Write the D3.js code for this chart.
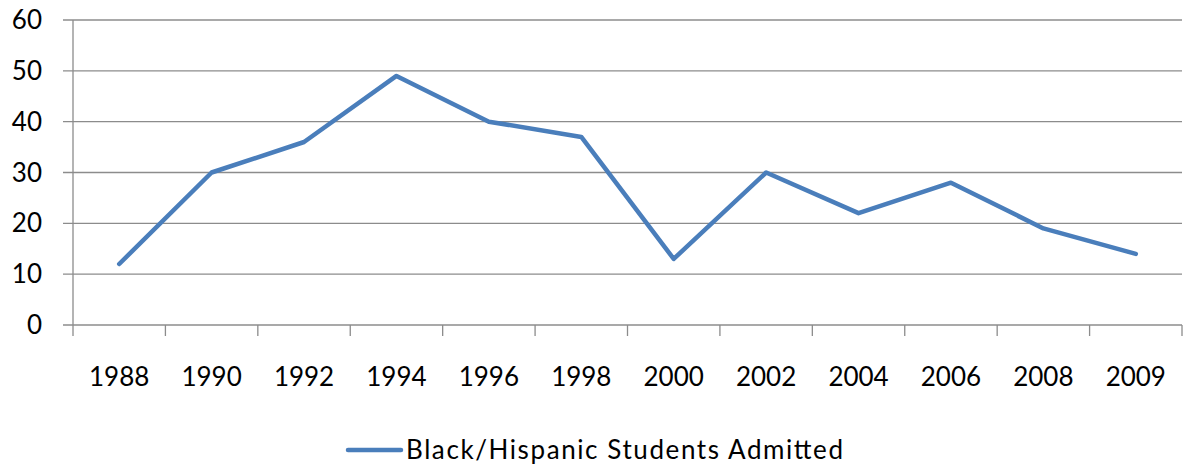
<!DOCTYPE html>
<html>
<head>
<meta charset="utf-8">
<script src="https://cdn.jsdelivr.net/npm/d3@7"></script>
<style>
  body { margin: 0; background: #fff; }
  text { font-family: Lato, "Open Sans", sans-serif; fill: #000; }
</style>
</head>
<body>
<script>
// dati
var years = ["1988", "1990", "1992", "1994", "1996", "1998", "2000", "2002", "2004", "2006", "2008", "2009"];
var admitted = [12, 30, 36, 49, 40, 37, 13, 30, 22, 28, 19, 14];
var yTicks = [0, 10, 20, 30, 40, 50, 60];
var seriesName = "Black/Hispanic Students Admitted";

var width = 1189, height = 473;
var plotLeft = 73, plotRight = 1182, plotTop = 20, plotBottom = 325;
var blue = "#4a7ebb", grid = "#8c8c8c";

var svg = d3.select("body").append("svg")
    .attr("width", width)
    .attr("height", height);

// scale
var x = d3.scaleBand().domain(years).range([plotLeft, plotRight]);
var y = d3.scaleLinear().domain([0, 60]).range([plotBottom, plotTop]);

// griglia orizzontale
svg.append("g").selectAll("line")
    .data(yTicks)
    .enter().append("line")
    .attr("x1", plotLeft - 10)
    .attr("x2", plotRight)
    .attr("y1", function (d) { return y(d); })
    .attr("y2", function (d) { return y(d); })
    .attr("stroke", grid)
    .attr("stroke-width", 1.3);

// asse y
svg.append("line")
    .attr("x1", plotLeft).attr("x2", plotLeft)
    .attr("y1", plotTop).attr("y2", plotBottom)
    .attr("stroke", grid).attr("stroke-width", 1.3);

svg.append("g").selectAll("text")
    .data(yTicks)
    .enter().append("text")
    .attr("x", 42)
    .attr("y", function (d) { return y(d); })
    .attr("dy", "0.35em")
    .attr("text-anchor", "end")
    .style("font-size", "26px")
    .text(function (d) { return d; });

// tick asse x (tra le categorie)
var bounds = years.map(function (d) { return x(d); }).concat([plotRight]);
svg.append("g").selectAll("line")
    .data(bounds)
    .enter().append("line")
    .attr("x1", function (d) { return d; })
    .attr("x2", function (d) { return d; })
    .attr("y1", plotBottom)
    .attr("y2", plotBottom + 11)
    .attr("stroke", grid)
    .attr("stroke-width", 1.3);

svg.append("g").selectAll("text")
    .data(years)
    .enter().append("text")
    .attr("x", function (d) { return x(d) + x.bandwidth() / 2; })
    .attr("y", 386)
    .attr("text-anchor", "middle")
    .style("font-size", "26px")
    .text(function (d) { return d; });

// linea
var line = d3.line()
    .x(function (d, i) { return x(years[i]) + x.bandwidth() / 2; })
    .y(function (d) { return y(d); });

svg.append("path")
    .datum(admitted)
    .attr("d", line)
    .attr("fill", "none")
    .attr("stroke", blue)
    .attr("stroke-width", 4.5)
    .attr("stroke-linejoin", "round")
    .attr("stroke-linecap", "round");

// legenda
svg.append("line")
    .attr("x1", 348).attr("x2", 401)
    .attr("y1", 450).attr("y2", 450)
    .attr("stroke", blue)
    .attr("stroke-width", 4.5)
    .attr("stroke-linecap", "round");

svg.append("text")
    .attr("x", 406)
    .attr("y", 450)
    .attr("dy", "0.35em")
    .attr("textLength", 437)
    .attr("lengthAdjust", "spacing")
    .style("font-size", "26px")
    .text(seriesName);
</script>
</body>
</html>
